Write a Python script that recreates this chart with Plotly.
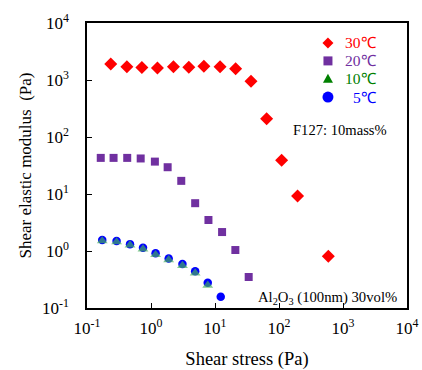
import plotly.graph_objects as go

# Data
x30 = [0.235, 0.42, 0.72, 1.26, 2.24, 3.9, 6.7, 12, 21, 36.5, 64, 110, 195, 590]
y30 = [1900, 1700, 1660, 1630, 1700, 1670, 1740, 1700, 1580, 950, 208, 39, 9.2, 0.81]

x20 = [0.164, 0.26, 0.425, 0.69, 1.15, 1.82, 2.97, 4.9, 7.9, 12.9, 20.8, 33.6]
y20 = [43, 43, 43, 42, 37, 29.5, 17, 6.9, 3.5, 2.15, 1.04, 0.35]

x10 = [0.173, 0.29, 0.47, 0.75, 1.18, 1.89, 3.1, 4.9, 7.7]
y10 = [1.50, 1.44, 1.27, 1.08, 0.86, 0.70, 0.555, 0.41, 0.25]

x5 = [0.173, 0.29, 0.47, 0.75, 1.18, 1.89, 3.1, 4.9, 7.7, 12.3]
y5 = [1.56, 1.50, 1.32, 1.14, 0.91, 0.74, 0.59, 0.44, 0.278, 0.158]

tick_vals = [0.1, 1, 10, 100, 1000, 10000]
tick_text = ["10<sup>-1</sup>", "10<sup>0</sup>", "10<sup>1</sup>",
             "10<sup>2</sup>", "10<sup>3</sup>", "10<sup>4</sup>"]

labels = ["30℃", "20℃", "10℃", "5℃"]
colors = ["#ff0000", "#7030a0", "#008000", "#0000ff"]

FONT = "Liberation Serif, Times New Roman, serif"

fig = go.Figure()
fig.add_trace(go.Scatter(x=x30, y=y30, mode="markers", showlegend=False,
                         marker=dict(symbol="diamond", size=10, color=colors[0])))
fig.add_trace(go.Scatter(x=x20, y=y20, mode="markers", showlegend=False,
                         marker=dict(symbol="square", size=8, color=colors[1])))
fig.add_trace(go.Scatter(x=x5, y=y5, mode="markers", showlegend=False,
                         marker=dict(symbol="circle", size=8.5, color=colors[3])))
fig.add_trace(go.Scatter(x=x10, y=y10, mode="markers", showlegend=False,
                         marker=dict(symbol="triangle-up", size=9.5,
                                     color="rgba(70,175,90,0.68)")))

# Manual legend (glyph shapes + coloured labels)
leg_x = 0.753
leg_text_x = 0.912
leg_rows = [0.930, 0.867, 0.804, 0.740]
glyph_paths = [
    "M-5.5,0 L0,5.5 L5.5,0 L0,-5.5 Z",   # diamond
    "M-4.5,-4.5 L4.5,-4.5 L4.5,4.5 L-4.5,4.5 Z",  # square
    "M-5,-4 L5,-4 L0,5 Z",               # triangle up
    None,                                # circle
]
for lab, c, gp, ry in zip(labels, colors, glyph_paths, leg_rows):
    if gp is None:
        fig.add_shape(type="circle", xref="paper", yref="paper",
                      xsizemode="pixel", ysizemode="pixel",
                      xanchor=leg_x, yanchor=ry, x0=-5.5, x1=5.5, y0=-5.5, y1=5.5,
                      fillcolor=c, line=dict(width=0))
    else:
        fig.add_shape(type="path", xref="paper", yref="paper",
                      xsizemode="pixel", ysizemode="pixel",
                      xanchor=leg_x, yanchor=ry, path=gp,
                      fillcolor=c, line=dict(width=0))
    fig.add_annotation(text=lab, xref="paper", yref="paper", x=leg_text_x, y=ry,
                       xanchor="right", yanchor="middle", showarrow=False,
                       font=dict(family=FONT, size=15.5, color=c))

axis_common = dict(type="log", tickvals=tick_vals, ticktext=tick_text,
                   showgrid=False, zeroline=False, showline=True,
                   linecolor="black", linewidth=1.5, mirror=True,
                   ticks="inside", ticklen=5, tickcolor="black",
                   automargin=False,
                   tickfont=dict(family=FONT, size=17, color="black"))

fig.update_xaxes(range=[-1, 4], **axis_common, ticklabelstandoff=4,
                 title=dict(text="Shear stress (Pa)",
                            font=dict(family=FONT, size=18.5, color="black"),
                            standoff=16))
fig.update_yaxes(range=[-1, 4], **axis_common, ticklabelstandoff=13,
                 title=dict(text="Shear elastic modulus  (Pa)",
                            font=dict(family=FONT, size=17, color="black"),
                            standoff=6))

fig.add_annotation(text="F127: 10mass%", xref="paper", yref="paper",
                   x=0.944, y=0.625, xanchor="right", yanchor="middle",
                   showarrow=False, font=dict(family=FONT, size=14.6, color="black"))
fig.add_annotation(text="Al<sub>2</sub>O<sub>3</sub> (100nm) 30vol%",
                   xref="paper", yref="paper",
                   x=0.975, y=0.036, xanchor="right", yanchor="middle",
                   showarrow=False, font=dict(family=FONT, size=14.7, color="black"))

fig.update_layout(
    width=422, height=370,
    margin=dict(l=87, r=15, t=23, b=62),
    paper_bgcolor="white", plot_bgcolor="white",
    font=dict(family=FONT),
    showlegend=False,
)

fig.write_html("out.html")
